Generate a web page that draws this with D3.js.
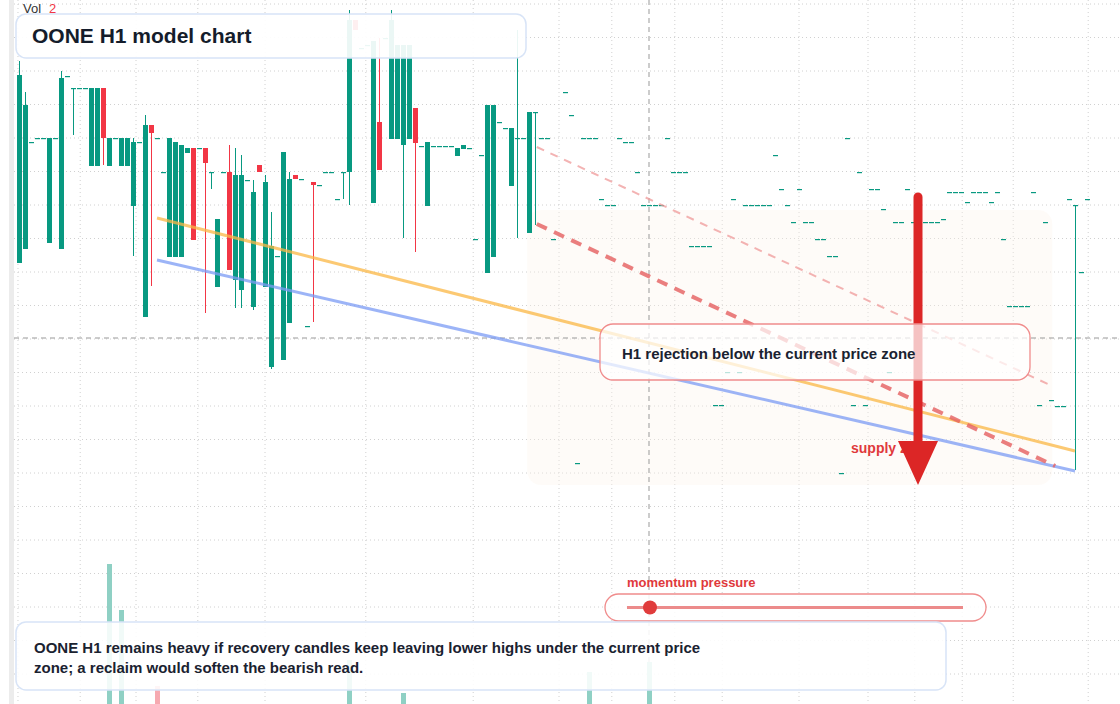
<!DOCTYPE html>
<html>
<head>
<meta charset="utf-8">
<script src="https://cdn.jsdelivr.net/npm/d3@7"></script>
<style>
  body { margin: 0; background: #fff; }
  svg { display: block; font-family: "Liberation Sans", Arial, sans-serif; }
</style>
</head>
<body>
<svg id="chart"></svg>
<script>
// candles: [open, high, low, close], a single number = flat candle, null = gap
var candles = [
  [437,639,437,625],[451,608,451,595],558,562,562,[457,562,457,562],562,[451,629,451,622],624,[612,612,565,612],
  612,612,[534,612,534,612],[534,612,534,612],[612,612,535,562],[534,562,534,562],562,[534,562,534,562],[534,562,534,562],[494,562,444,558],
  558,[383,585,383,575],[575,575,414,567],562,528,[443,562,443,562],[443,558,443,558],[443,555,443,555],[547,552,547,552],[552,552,460,460],
  552,[552,552,387,537],[528,528,511,528],[413,481,413,481],528,[528,555,430,430],[420,552,392,525],[410,545,392,525],520,[393,520,390,508],
  [535,535,528,528],[413,525,413,518],[333,488,331,454],444,[340,548,340,548],[377,528,377,521],[525,525,521,521],521,374,[518,518,378,515],
  515,528,528,501,[528,528,501,528],[528,690,495,680],[680,680,670,670],652,655,[497,659,497,659],
  [578,662,530,530],662,[561,690,561,680],[561,655,561,655],[555,655,462,655],[561,655,561,655],[592,592,448,557],554,[494,558,494,558],554,
  554,554,554,[544,552,544,552],[551,555,551,555],552,461,545,[427,595,427,595],[443,595,443,595],
  578,572,[514,572,514,572],[562,670,462,562],562,[467,588,467,588],[588,588,475,588],562,562,461,
  null,608,585,237,562,562,562,501,495,495,
  562,558,558,528,495,495,495,495,562,528,
  528,528,454,454,454,454,295,295,328,501,
  328,495,495,495,495,495,545,511,495,478,
  511,478,478,461,461,444,444,227,562,295,
  528,295,511,511,491,328,478,478,511,478,
  478,478,478,478,481,508,508,508,498,508,
  508,508,498,508,461,394,394,394,394,508,
  295,478,300,294,294,501,[494,495,230,495],428,501
];

var volIndex = [15, 17, 23, 55, 64, 95, 105];
var volValue = [140, 94, 18, 44, 11, 32, 42];
var volUp = [true, true, false, true, true, true, true];

var gridCols = [-0.17, 10.2, 19.5, 29.8, 41, 57.8, 75.7, 90, 98.8, 109.3, 117.2, 130, 141.5, 149.3, 157.2, 165.7, 178.2];
var gridRows = d3.range(-2, 20).map(function(k) { return 629 - 33.5 * k; });

// trend lines: [i0, p0, i1, p1]
var orangeLine = [23, 482, 176, 249];
var blueLine = [23, 440, 176, 229];
var redDash = [86.3, 476, 172.7, 234];
var paleDash = [86.3, 553, 172.2, 314];

var crossIndex = 105;
var crossPrice = 362;

var width = 1120, height = 704;
var svg = d3.select("#chart").attr("width", width).attr("height", height);

var x = d3.scaleLinear().domain([0, 178]).range([19, 1087]);
var y = d3.scaleLinear().domain([0, 700]).range([700, 0]);
var vy = d3.scaleLinear().domain([0, 140]).range([704, 564]);

var green = "#089981", red = "#f23645";

// left edge band
svg.append("rect").attr("x", 9).attr("y", 0).attr("width", 5).attr("height", height).attr("fill", "#ececec");

// grid
svg.selectAll(".gc").data(gridCols).enter().append("line")
  .attr("x1", function(d) { return x(d); }).attr("x2", function(d) { return x(d); })
  .attr("y1", 0).attr("y2", height)
  .attr("stroke", "#d0d0d0").attr("stroke-dasharray", "1,3");
svg.selectAll(".gr").data(gridRows).enter().append("line")
  .attr("x1", 14).attr("x2", width)
  .attr("y1", function(d) { return y(d); }).attr("y2", function(d) { return y(d); })
  .attr("stroke", "#d0d0d0").attr("stroke-dasharray", "1,3");

// supply zone shading
svg.append("rect").attr("x", x(84.7)).attr("y", y(490)).attr("width", x(172.2) - x(84.7)).attr("height", y(215) - y(490))
  .attr("rx", 14).attr("fill", "#fdf3ea").attr("opacity", 0.35);

// crosshair
svg.append("line").attr("x1", x(crossIndex)).attr("x2", x(crossIndex)).attr("y1", 0).attr("y2", height)
  .attr("stroke", "#999").attr("stroke-dasharray", "5,4");
svg.append("line").attr("x1", 14).attr("x2", width).attr("y1", y(crossPrice)).attr("y2", y(crossPrice))
  .attr("stroke", "#999").attr("stroke-dasharray", "5,4");

// volume
svg.selectAll(".vol").data(volIndex).enter().append("rect")
  .attr("x", function(d) { return x(d) - 2; })
  .attr("y", function(d, i) { return vy(volValue[i]); })
  .attr("width", 5)
  .attr("height", function(d, i) { return 704 - vy(volValue[i]); })
  .attr("fill", function(d, i) { return volUp[i] ? "#8fd0c4" : "#f6a9b0"; });

// candles
var cdata = [];
candles.forEach(function(d, i) {
  if (d === null) return;
  if (typeof d === "number") d = [d, d, d, d];
  cdata.push({ i: i, o: d[0], h: d[1], l: d[2], c: d[3] });
});
var g = svg.append("g");
g.selectAll(".wick").data(cdata).enter().append("line")
  .attr("x1", function(d) { return x(d.i) + 0.5; }).attr("x2", function(d) { return x(d.i) + 0.5; })
  .attr("y1", function(d) { return y(d.h); }).attr("y2", function(d) { return y(d.l); })
  .attr("stroke", function(d) { return d.c < d.o ? red : green; }).attr("stroke-width", 1);
g.selectAll(".body").data(cdata).enter().append("rect")
  .attr("x", function(d) { return x(d.i) - 2; })
  .attr("y", function(d) { return y(Math.max(d.o, d.c)); })
  .attr("width", 5)
  .attr("height", function(d) { return Math.max(1.2, Math.abs(y(d.o) - y(d.c))); })
  .attr("fill", function(d) { return d.c < d.o ? red : green; });

// trend lines
function tl(p, color, w, dash, op) {
  svg.append("line").attr("x1", x(p[0])).attr("y1", y(p[1])).attr("x2", x(p[2])).attr("y2", y(p[3]))
    .attr("stroke", color).attr("stroke-width", w).attr("stroke-dasharray", dash).attr("opacity", op);
}
tl(orangeLine, "#fbb845", 3, null, 0.75);
tl(blueLine, "#7c9cf5", 3, null, 0.75);
tl(paleDash, "#f09a9a", 2, "8,7", 0.75);
tl(redDash, "#e66060", 4, "11,8", 0.8);

// title
svg.append("rect").attr("x", 16).attr("y", 14).attr("width", 510).attr("height", 44).attr("rx", 10)
  .attr("fill", "#fff").attr("fill-opacity", 0.92).attr("stroke", "#d8e4f7").attr("stroke-width", 1.5);
svg.append("text").attr("x", 32).attr("y", 43).text("OONE H1 model chart")
  .attr("font-size", 21).attr("font-weight", "bold").attr("fill", "#141c2b");
svg.append("text").attr("x", 23).attr("y", 13).text("Vol").attr("font-size", 13).attr("fill", "#333");
svg.append("text").attr("x", 49).attr("y", 13).text("2").attr("font-size", 13).attr("fill", red);

// supply label + arrow
svg.append("text").attr("x", 851).attr("y", 453).text("supply zone")
  .attr("font-size", 14).attr("font-weight", "bold").attr("fill", "#e0393c");
svg.append("line").attr("x1", 918).attr("x2", 918).attr("y1", 197).attr("y2", 446)
  .attr("stroke", "#dc2626").attr("stroke-width", 9).attr("stroke-linecap", "round");
svg.append("path").attr("d", "M898,441 L938,441 L918,485 Z").attr("fill", "#dc2626");

// callout
svg.append("rect").attr("x", 600).attr("y", 324).attr("width", 430).attr("height", 56).attr("rx", 13)
  .attr("fill", "#fff").attr("fill-opacity", 0.72).attr("stroke", "#f08c8c").attr("stroke-width", 1.3);
svg.append("text").attr("x", 622).attr("y", 359).text("H1 rejection below the current price zone")
  .attr("font-size", 15).attr("font-weight", "bold").attr("fill", "#1a2230");

// momentum
svg.append("text").attr("x", 627).attr("y", 587).text("momentum pressure")
  .attr("font-size", 13).attr("font-weight", "bold").attr("fill", "#e0393c");
svg.append("rect").attr("x", 605).attr("y", 594).attr("width", 381).attr("height", 27).attr("rx", 13.5)
  .attr("fill", "#fff").attr("fill-opacity", 0.85).attr("stroke", "#f08c8c").attr("stroke-width", 1.3);
svg.append("line").attr("x1", 627).attr("x2", 963).attr("y1", 607.5).attr("y2", 607.5)
  .attr("stroke", "#ec8b8b").attr("stroke-width", 3);
svg.append("circle").attr("cx", 650).attr("cy", 607.5).attr("r", 7).attr("fill", "#e03c3c");

// bottom note
svg.append("rect").attr("x", 16).attr("y", 622).attr("width", 930).attr("height", 68).attr("rx", 10)
  .attr("fill", "#fff").attr("fill-opacity", 0.88).attr("stroke", "#d8e4f7").attr("stroke-width", 1.5);
svg.append("text").attr("x", 34).attr("y", 653)
  .text("OONE H1 remains heavy if recovery candles keep leaving lower highs under the current price")
  .attr("font-size", 15).attr("font-weight", "bold").attr("fill", "#1a2230");
svg.append("text").attr("x", 34).attr("y", 673)
  .text("zone; a reclaim would soften the bearish read.")
  .attr("font-size", 15).attr("font-weight", "bold").attr("fill", "#1a2230");
</script>
</body>
</html>
